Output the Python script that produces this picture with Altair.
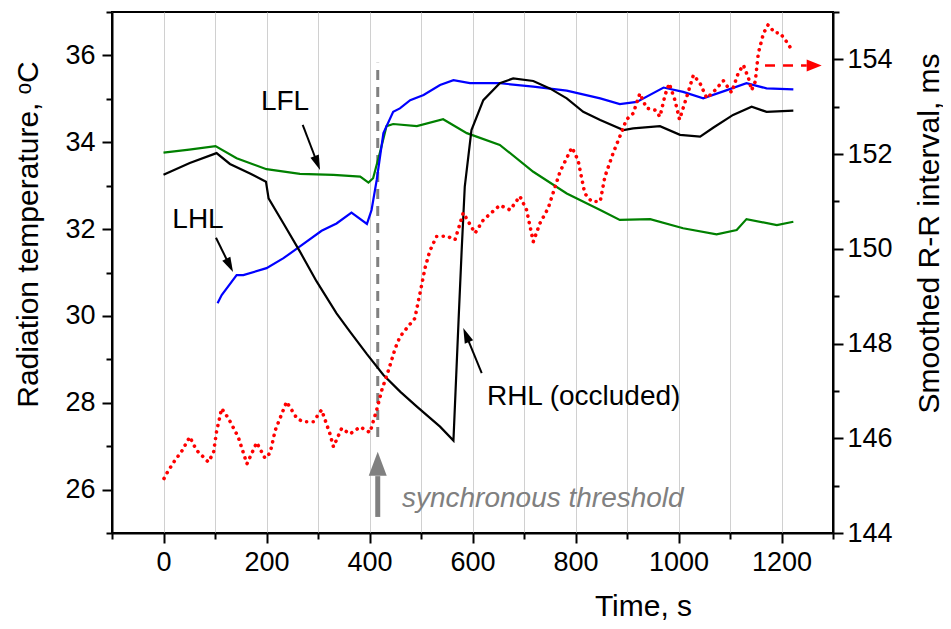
import altair as alt
import pandas as pd

# ---------------- data ----------------
lfl_t = [0, 50, 101, 142, 200, 265, 330, 382, 398, 407, 420, 433, 446, 492, 543, 589,
         653, 718, 783, 848, 886, 945, 1009, 1074, 1113, 1132, 1191, 1223]
lfl_v = [33.76, 33.83, 33.91, 33.63, 33.38, 33.27, 33.25, 33.21, 33.07, 33.17, 33.75, 34.37,
         34.42, 34.37, 34.53, 34.21, 33.94, 33.32, 32.82, 32.44, 32.21, 32.23, 32.02, 31.88,
         31.98, 32.23, 32.09, 32.17]

lhl_t = [105, 113, 142, 155, 200, 233, 265, 307, 336, 365, 395, 404, 414, 427, 446, 459, 479,
         505, 537, 563, 595, 653, 718, 783, 848, 886, 919, 971, 1009, 1048, 1094, 1132, 1171, 1223]
lhl_v = [30.29, 30.48, 30.94, 30.94, 31.10, 31.33, 31.60, 31.96, 32.13, 32.38, 32.12, 32.44,
         33.13, 34.21, 34.70, 34.78, 34.97, 35.09, 35.32, 35.43, 35.36, 35.36, 35.28, 35.19,
         35.01, 34.88, 34.93, 35.26, 35.16, 35.01, 35.20, 35.36, 35.24, 35.22]

rhl_t = [0, 51, 103, 129, 168, 199, 204, 233, 265, 297, 336, 362, 395, 427, 460, 492, 537, 563,
         573, 579, 585, 598, 621, 653, 679, 718, 750, 783, 815, 848, 893, 912, 964, 1003, 1042,
         1068, 1106, 1142, 1171, 1223]
rhl_v = [33.25, 33.52, 33.75, 33.50, 33.28, 33.09, 32.71, 32.13, 31.48, 30.80, 30.06, 29.64,
         29.12, 28.64, 28.25, 27.91, 27.45, 27.13, 29.91, 31.52, 32.98, 34.28, 34.97, 35.36,
         35.47, 35.41, 35.24, 35.01, 34.70, 34.51, 34.28, 34.32, 34.37, 34.17, 34.13, 34.34,
         34.63, 34.82, 34.70, 34.73]

rr_t = [1, 9, 22, 35, 51, 64, 87, 97, 103, 113, 126, 145, 162, 181, 197, 207, 217, 239, 259,
        271, 291, 307, 323, 330, 346, 362, 382, 401, 406, 414, 424, 437, 450, 459, 472, 488,
        498, 508, 517, 530, 550, 566, 572, 582, 605, 621, 653, 673, 692, 705, 718, 731, 747,
        770, 793, 805, 818, 831, 848, 857, 873, 886, 899, 912, 925, 938, 954, 964, 974, 982,
        993, 1002, 1016, 1029, 1042, 1055, 1071, 1087, 1103, 1116, 1126, 1136, 1142, 1149,
        1155, 1165, 1174, 1187, 1197, 1210, 1220]
rr_v = [145.15, 145.31, 145.53, 145.72, 146.03, 145.75, 145.50, 145.69, 146.14, 146.63,
        146.42, 146.03, 145.46, 145.91, 145.58, 145.69, 146.17, 146.77, 146.42, 146.35,
        146.35, 146.60, 146.10, 145.82, 146.21, 146.09, 146.24, 146.12, 146.31, 146.60,
        147.02, 147.44, 147.90, 148.14, 148.32, 148.53, 149.06, 149.60, 149.95, 150.26,
        150.27, 150.19, 150.40, 150.76, 150.33, 150.61, 150.92, 150.82, 151.11, 150.82,
        150.15, 150.54, 150.86, 151.63, 152.14, 151.87, 151.17, 151.00, 151.00, 151.52,
        152.02, 152.37, 152.73, 152.86, 153.28, 152.97, 152.93, 152.79, 153.25, 153.49,
        153.14, 152.73, 153.21, 153.67, 153.49, 153.18, 153.35, 153.55, 153.30, 153.71,
        153.88, 153.60, 153.35, 153.53, 154.13, 154.55, 154.73, 154.56, 154.56, 154.37,
        154.20]

time_ticks = list(range(-100, 1301, 100))
temp_ticks = list(range(25, 38))
rr_ticks = list(range(144, 156))

# annotations (data units)
label_text = ["LFL", "LHL", "RHL (occluded)"]
label_t = [236, 67, 628]
label_v = [34.93, 32.21, 28.13]
label_align = ["center", "center", "left"]

threshold_t = [416]
threshold_lo = [27.21]
threshold_hi = [35.83]

sync_text = ["synchronous threshold"]
sync_t = [463]
sync_v = [25.78]

arrow_t0 = [270.3, 101.9, 617.9]
arrow_v0 = [34.40, 31.80, 28.68]
arrow_t1 = [294.2, 122.7, 592.4]
arrow_v1 = [33.66, 31.30, 29.42]
arrow_tt = [303.9, 135.0, 582.1]
arrow_vt = [33.36, 31.01, 29.72]
arrow_ang = [159.0, 153.4, 337.8]

up_t = [416]
up_v0 = [25.37]
up_v1 = [26.31]
up_vt = [26.87]

red_arrow_t0 = [1168]
red_arrow_t1 = [1249]
red_arrow_tt = [1278]
red_arrow_v = [153.87]

# ---------------- styling ----------------
FONT = "Liberation Sans"
GRAY = "#808080"

common_axis = dict(domainColor="black", domainWidth=2, tickColor="black", tickWidth=2,
                   labelFont=FONT, labelFontSize=27, labelColor="black",
                   titleFont=FONT, titleFontSize=30, titleFontWeight="normal",
                   titleColor="black", labelOverlap=False, labelFlush=False, format="d")

AX_X = alt.Axis(orient="bottom", values=time_ticks,
                labelExpr="(datum.value % 200 == 0 && datum.value >= 0 && datum.value <= 1200) ? datum.label : ''",
                tickSize={"condition": {"test": "datum.value % 200 == 0", "value": 10}, "value": 6},
                labelPadding=6, grid=True, gridColor="#d0d0d0", gridWidth=1,
                title="Time, s", titleX=531, titleY=82, titleBaseline="alphabetic",
                titleAlign="center", **common_axis)

AX_L = alt.Axis(orient="left", values=temp_ticks,
                labelExpr="datum.value % 2 == 0 ? datum.label : ''",
                tickSize={"condition": {"test": "datum.value % 2 == 0", "value": 10}, "value": 6},
                labelPadding=7, grid=False,
                title="Radiation temperature, ᵒC", titleX=-84, titleY=222, titleAngle=270,
                titleBaseline="middle", titleAlign="center", **common_axis)

AX_R = alt.Axis(orient="right", values=rr_ticks,
                labelExpr="datum.value % 2 == 0 ? datum.label : ''",
                tickSize={"condition": {"test": "datum.value % 2 == 0", "value": 10}, "value": 6},
                labelPadding=4, grid=False,
                title="Smoothed R-R interval, ms", titleX=96, titleY=221, titleAngle=270,
                titleBaseline="middle", titleAlign="center", **common_axis)

XS = alt.Scale(domain=[-100, 1300], nice=False, zero=False)
YLS = alt.Scale(domain=[25, 37], nice=False, zero=False)
YRS = alt.Scale(domain=[144, 155], nice=False, zero=False)


def X(f):
    return alt.X(f"{f}:Q", scale=XS, axis=AX_X)


def YL(f):
    return alt.Y(f"{f}:Q", scale=YLS, axis=AX_L)


def YR(f):
    return alt.Y(f"{f}:Q", scale=YRS, axis=AX_R)


HEAD_BLACK = "M0,0 L-0.6,2 L0.6,2 Z"
HEAD_GRAY = "M0,0 L-0.75,2 L0.75,2 Z"
HEAD_RED = "M0,0 L-0.8,2 L0.8,2 Z"

# ---------------- left (temperature) layers ----------------
thr_df = pd.DataFrame({"t": threshold_t, "lo": threshold_lo, "hi": threshold_hi})
threshold = alt.Chart(thr_df).mark_rule(color=GRAY, strokeWidth=3, strokeDash=[10, 7]).encode(
    x=X("t"), y=YL("lo"), y2=alt.Y2("hi"))

lfl = alt.Chart(pd.DataFrame({"t": lfl_t, "v": lfl_v})).mark_line(
    color="#008000", strokeWidth=2.2).encode(x=X("t"), y=YL("v"))
lhl = alt.Chart(pd.DataFrame({"t": lhl_t, "v": lhl_v})).mark_line(
    color="#0000ff", strokeWidth=2.2).encode(x=X("t"), y=YL("v"))
rhl = alt.Chart(pd.DataFrame({"t": rhl_t, "v": rhl_v})).mark_line(
    color="black", strokeWidth=2.2).encode(x=X("t"), y=YL("v"))

lab_df = pd.DataFrame({"t": label_t, "v": label_v, "txt": label_text, "al": label_align})
lab_c = alt.Chart(lab_df[lab_df.al == "center"]).mark_text(
    font=FONT, fontSize=28, color="black", align="center", baseline="middle").encode(
    x=X("t"), y=YL("v"), text="txt:N")
lab_l = alt.Chart(lab_df[lab_df.al == "left"]).mark_text(
    font=FONT, fontSize=28, color="black", align="left", baseline="middle").encode(
    x=X("t"), y=YL("v"), text="txt:N")

arr_df = pd.DataFrame({"t0": arrow_t0, "v0": arrow_v0, "t1": arrow_t1, "v1": arrow_v1,
                       "tt": arrow_tt, "vt": arrow_vt, "ang": arrow_ang})
shafts = alt.Chart(arr_df).mark_rule(color="black", strokeWidth=2).encode(
    x=X("t0"), y=YL("v0"), x2=alt.X2("t1"), y2=alt.Y2("v1"))
heads = alt.Chart(arr_df).mark_point(shape=HEAD_BLACK, filled=True, size=225, color="black",
                                     opacity=1, strokeWidth=0).encode(
    x=X("tt"), y=YL("vt"), angle=alt.Angle("ang:Q", scale=None))

up_df = pd.DataFrame({"t": up_t, "v0": up_v0, "v1": up_v1, "vt": up_vt})
up_shaft = alt.Chart(up_df).mark_rule(color=GRAY, strokeWidth=5).encode(
    x=X("t"), y=YL("v0"), y2=alt.Y2("v1"))
up_head = alt.Chart(up_df).mark_point(shape=HEAD_GRAY, filled=True, size=576, color=GRAY,
                                      opacity=1, strokeWidth=0, angle=0).encode(
    x=X("t"), y=YL("vt"))

sync = alt.Chart(pd.DataFrame({"t": sync_t, "v": sync_v, "txt": sync_text})).mark_text(
    font=FONT, fontSize=28, fontStyle="italic", color=GRAY, align="left",
    baseline="middle").encode(x=X("t"), y=YL("v"), text="txt:N")

left = alt.layer(threshold, lfl, lhl, rhl, lab_c, lab_l, shafts, heads, up_shaft, up_head, sync)

# ---------------- right (R-R interval) layers ----------------
rr = alt.Chart(pd.DataFrame({"t": rr_t, "v": rr_v})).mark_line(
    color="#ff0000", strokeWidth=3.6, strokeDash=[0.1, 6.5], strokeCap="round").encode(
    x=X("t"), y=YR("v"))

red_df = pd.DataFrame({"t0": red_arrow_t0, "t1": red_arrow_t1, "tt": red_arrow_tt,
                       "v": red_arrow_v})
red_shaft = alt.Chart(red_df).mark_rule(color="#ff0000", strokeWidth=2.5,
                                        strokeDash=[10, 8]).encode(
    x=X("t0"), x2=alt.X2("t1"), y=YR("v"))
red_head = alt.Chart(red_df).mark_point(shape=HEAD_RED, filled=True, size=225, color="#ff0000",
                                        opacity=1, strokeWidth=0, angle=90).encode(
    x=X("tt"), y=YR("v"))

right = alt.layer(rr, red_shaft, red_head)

chart = alt.layer(left, right).resolve_scale(y="independent").properties(
    width=721, height=521,
    autosize=alt.AutoSizeParams(type="none"),
    padding={"left": 104, "top": 4, "right": 110, "bottom": 88},
    background="white",
).configure_view(stroke="black", strokeWidth=2)

chart.save("out.html", embed_options={"renderer": "svg", "actions": False})
